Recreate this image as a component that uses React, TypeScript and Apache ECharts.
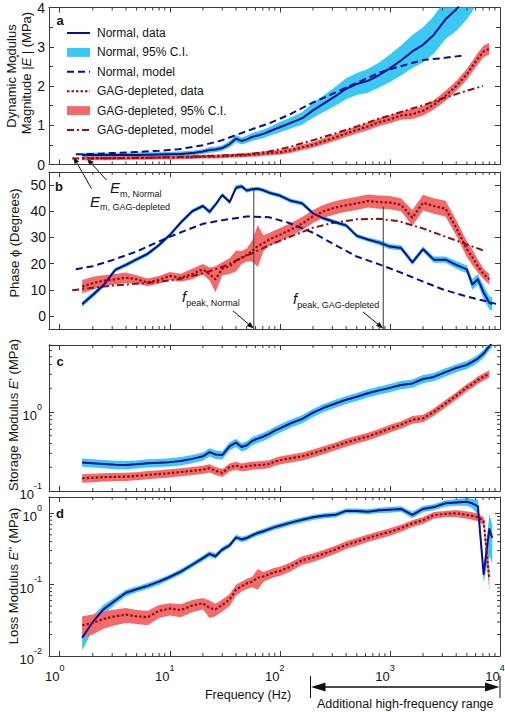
import React, { useEffect, useRef } from 'react';
import * as echarts from 'echarts';

const FONT = '"Liberation Sans", Arial, Helvetica, sans-serif';
const NAVY = '#0c0c8e';
const CYAN = '#3ac8f4';
const DARKRED = '#8e1010';
const SALMON = '#f36a6a';
const AXIS = '#3a3a3a';
const INK = '#141414';

// ---------- frequencies (Hz) of the measured data ----------
const FREQ = [1.6, 2, 2.5, 3.2, 4, 5, 6.3, 8, 10, 12.6,
  16, 20, 23, 26, 30, 35, 40, 45, 50, 56,
  63, 71, 80, 90, 100, 126, 160, 200, 250, 320,
  400, 500, 630, 800, 1000, 1260, 1600, 2000, 2500, 3200,
  4000, 5000, 5600, 6300, 7100, 8000, 8500];

// ---------- panel a : |E*| (MPa) ----------
const A_NORMAL = [0.24, 0.24, 0.24, 0.24, 0.24, 0.245, 0.25, 0.255, 0.26, 0.27,
  0.29, 0.33, 0.37, 0.38, 0.42, 0.52, 0.66, 0.6, 0.64, 0.7,
  0.74, 0.78, 0.84, 0.9, 0.95, 1.06, 1.18, 1.38, 1.55, 1.74,
  1.93, 2.05, 2.13, 2.28, 2.45, 2.65, 2.88, 3.05, 3.3, 3.7,
  3.95, 4.3, 4.5, 4.8, 5.2, 5.8, 6.2];
const A_NORMAL_CI = [0.06, 0.06, 0.06, 0.06, 0.06, 0.06, 0.06, 0.06, 0.06, 0.06,
  0.06, 0.06, 0.07, 0.07, 0.07, 0.08, 0.09, 0.09, 0.09, 0.1,
  0.1, 0.11, 0.11, 0.12, 0.13, 0.14, 0.16, 0.19, 0.21, 0.24,
  0.27, 0.28, 0.3, 0.32, 0.35, 0.38, 0.42, 0.45, 0.48, 0.5,
  0.55, 0.6, 0.6, 0.65, 0.7, 0.8, 0.85];
const A_GAG = [0.16, 0.16, 0.16, 0.165, 0.165, 0.17, 0.17, 0.175, 0.18, 0.185,
  0.19, 0.2, 0.2, 0.2, 0.21, 0.22, 0.23, 0.23, 0.24, 0.25,
  0.26, 0.28, 0.29, 0.3, 0.31, 0.36, 0.44, 0.5, 0.59, 0.69,
  0.79, 0.88, 0.97, 1.08, 1.15, 1.25, 1.28, 1.37, 1.52, 1.75,
  2.0, 2.3, 2.5, 2.7, 2.88, 2.95, null];
const A_GAG_CI = [0.05, 0.05, 0.05, 0.05, 0.05, 0.05, 0.05, 0.05, 0.05, 0.05,
  0.05, 0.05, 0.05, 0.05, 0.05, 0.05, 0.05, 0.05, 0.05, 0.055,
  0.055, 0.055, 0.06, 0.06, 0.06, 0.065, 0.07, 0.075, 0.08, 0.085,
  0.09, 0.09, 0.095, 0.1, 0.1, 0.11, 0.12, 0.12, 0.12, 0.13,
  0.13, 0.14, 0.14, 0.15, 0.15, 0.15, null];

const MODEL_A_NORMAL_FREQ = [1.4, 2, 3, 5, 8, 12, 20, 30, 50, 80, 120, 200, 300, 500, 800, 1200, 2000, 3000, 4460];
const MODEL_A_NORMAL = [0.26, 0.27, 0.29, 0.32, 0.35, 0.39, 0.49, 0.62, 0.85, 1.05, 1.26, 1.58, 1.8, 2.08, 2.34, 2.49, 2.66, 2.71, 2.77];
const MODEL_A_GAG_FREQ = [1.3, 2, 3, 5, 8, 12, 20, 30, 50, 80, 120, 200, 300, 500, 800, 1200, 2000, 3000, 5000, 7000];
const MODEL_A_GAG = [0.15, 0.155, 0.16, 0.17, 0.18, 0.19, 0.21, 0.23, 0.26, 0.33, 0.44, 0.62, 0.77, 0.97, 1.17, 1.32, 1.51, 1.68, 1.88, 2.0];

// ---------- panel b : phase (degrees) ----------
const B_NORMAL = [4.5, 8.0, 11.8, 17.6, 19.5, 21.6, 23.7, 27.1, 30.9, 35.7,
  40.0, 42.0, 39.8, 42.5, 46.2, 43.5, 49.0, 49.5, 47.9, 48.4,
  48.6, 48.0, 47.1, 46.5, 46.0, 44.0, 43.0, 39.2, 37.3, 35.8,
  34.6, 30.6, 29.2, 28.0, 26.5, 26.0, 20.5, 25.5, 21.5, 21.5,
  19.5, 17.8, 12.0, 14.0, 9.0, 5.0, 4.5];
const B_NORMAL_CI = [1.0, 1.0, 1.0, 0.8, 0.8, 0.8, 0.8, 0.8, 0.8, 0.8,
  0.8, 0.8, 1.0, 0.8, 0.8, 0.8, 1.0, 0.8, 0.8, 0.8,
  0.8, 0.8, 0.8, 0.8, 0.8, 0.8, 0.8, 0.8, 0.8, 0.8,
  0.8, 0.8, 0.8, 1.0, 1.0, 1.0, 1.0, 1.0, 1.2, 1.2,
  1.5, 1.5, 2.0, 2.0, 2.5, 2.5, 2.5];
const B_GAG = [11.2, 12.5, 13.5, 14.0, 14.6, 14.0, 12.8, 13.8, 15.3, 14.6,
  16.0, 17.8, 16.0, 14.0, 18.0, 19.0, 21.0, 22.3, 23.3, 24.8,
  26.7, 27.8, 29.2, 30.2, 31.0, 33.0, 35.3, 38.0, 40.0, 41.4,
  42.3, 43.0, 43.9, 43.5, 43.3, 42.5, 37.5, 43.3, 42.0, 41.0,
  33.7, 25.5, 22.5, 19.0, 16.0, 14.0, null];
const B_GAG_CI = [2.5, 2.5, 2.0, 2.0, 2.0, 1.5, 1.5, 1.5, 1.5, 1.5,
  2.0, 2.0, 2.5, 5.0, 2.5, 3.0, 4.0, 2.5, 2.5, 4.0,
  8.0, 3.0, 2.5, 2.5, 2.5, 2.5, 2.5, 2.5, 2.5, 2.5,
  2.5, 2.5, 2.5, 2.5, 2.5, 2.5, 3.0, 3.0, 3.0, 3.0,
  3.0, 3.0, 3.0, 2.5, 2.0, 2.0, null];

const MODEL_B_NORMAL_FREQ = [1.4, 2, 3, 5, 8, 12, 20, 30, 50, 80, 120, 200, 300, 500, 800, 1200, 2000, 3000, 5000, 7000, 9200];
const MODEL_B_NORMAL = [17.8, 19.0, 21.3, 24.6, 28.5, 31.6, 35.2, 36.6, 38.0, 37.7, 35.6, 31.8, 27.7, 22.7, 19.7, 16.9, 13.1, 10.2, 7.4, 5.9, 4.6];
const MODEL_B_GAG_FREQ = [1.3, 2, 3, 5, 8, 12, 20, 30, 50, 80, 120, 200, 300, 500, 800, 1200, 2000, 3000, 5000, 7300];
const MODEL_B_GAG = [9.8, 10.8, 11.6, 12.3, 13.0, 14.0, 16.3, 18.7, 23.0, 27.0, 30.0, 33.7, 35.5, 36.9, 37.1, 36.2, 33.4, 30.7, 27.3, 24.8];

const FPEAK = [58, 870];          // Hz
const FPEAK_TOP = [48.6, 41.8];   // degrees

// ---------- panel c : storage modulus E' (MPa) ----------
const C_NORMAL = [0.23, 0.225, 0.22, 0.215, 0.213, 0.218, 0.225, 0.228, 0.232, 0.24,
  0.255, 0.275, 0.31, 0.29, 0.285, 0.37, 0.41, 0.36, 0.38, 0.43,
  0.46, 0.49, 0.53, 0.58, 0.62, 0.72, 0.82, 0.98, 1.13, 1.28,
  1.43, 1.56, 1.73, 1.88, 2.02, 2.2, 2.3, 2.62, 2.78, 3.2,
  3.6, 3.95, 4.3, 4.75, 5.5, 6.8, 7.5];
const C_NORMAL_CI = [0.027, 0.027, 0.026, 0.026, 0.026, 0.026, 0.027, 0.027, 0.028, 0.029,
  0.03, 0.033, 0.037, 0.035, 0.034, 0.044, 0.049, 0.043, 0.046, 0.05,
  0.055, 0.058, 0.063, 0.069, 0.074, 0.085, 0.097, 0.115, 0.13, 0.15,
  0.17, 0.185, 0.2, 0.22, 0.24, 0.26, 0.27, 0.31, 0.33, 0.38,
  0.42, 0.46, 0.5, 0.56, 0.65, 0.8, 0.9];
const C_GAG = [0.145, 0.147, 0.15, 0.151, 0.152, 0.155, 0.16, 0.164, 0.168, 0.174,
  0.18, 0.186, 0.195, 0.18, 0.17, 0.2, 0.21, 0.2, 0.205, 0.21,
  0.213, 0.215, 0.22, 0.235, 0.245, 0.26, 0.275, 0.3, 0.33, 0.37,
  0.41, 0.45, 0.49, 0.55, 0.62, 0.69, 0.8, 0.83, 1.0, 1.28,
  1.6, 2.05, 2.25, 2.55, 2.8, 3.05, null];
const C_GAG_CI = [0.018, 0.018, 0.018, 0.018, 0.018, 0.018, 0.019, 0.019, 0.02, 0.02,
  0.021, 0.022, 0.023, 0.021, 0.02, 0.023, 0.024, 0.023, 0.024, 0.024,
  0.025, 0.025, 0.025, 0.027, 0.028, 0.03, 0.032, 0.035, 0.038, 0.042,
  0.047, 0.05, 0.055, 0.06, 0.068, 0.075, 0.09, 0.09, 0.11, 0.14,
  0.17, 0.22, 0.24, 0.27, 0.3, 0.33, null];

// ---------- panel d : loss modulus E'' (MPa) ----------
const D_NORMAL = [0.018, 0.03, 0.045, 0.06, 0.077, 0.086, 0.096, 0.11, 0.128, 0.152,
  0.19, 0.235, 0.27, 0.25, 0.31, 0.355, 0.46, 0.43, 0.45, 0.49,
  0.53, 0.56, 0.6, 0.64, 0.67, 0.74, 0.81, 0.88, 0.92, 0.95,
  1.08, 1.08, 1.05, 1.1, 1.12, 1.15, 0.95, 1.15, 1.22, 1.38,
  1.42, 1.45, 1.38, 1.25, 0.14, 0.6, 0.45];
const D_NORMAL_CI = [0.006, 0.007, 0.007, 0.007, 0.008, 0.008, 0.009, 0.01, 0.011, 0.013,
  0.016, 0.02, 0.024, 0.022, 0.026, 0.03, 0.04, 0.037, 0.038, 0.04,
  0.045, 0.047, 0.05, 0.054, 0.056, 0.062, 0.068, 0.074, 0.077, 0.08,
  0.09, 0.09, 0.09, 0.095, 0.1, 0.1, 0.1, 0.11, 0.12, 0.14,
  0.15, 0.18, 0.2, 0.3, 0.03, 0.35, 0.25];
const D_GAG = [0.027, 0.029, 0.033, 0.036, 0.038, 0.036, 0.035, 0.043, 0.046, 0.044,
  0.051, 0.055, 0.047, 0.045, 0.052, 0.062, 0.085, 0.095, 0.104, 0.11,
  0.125, 0.13, 0.14, 0.15, 0.155, 0.18, 0.22, 0.24, 0.27, 0.31,
  0.36, 0.4, 0.45, 0.5, 0.55, 0.62, 0.72, 0.8, 0.94, 0.98,
  1.0, 0.95, 0.92, 0.88, 0.78, 0.12, null];
const D_GAG_CI = [0.009, 0.009, 0.009, 0.009, 0.009, 0.008, 0.008, 0.009, 0.009, 0.009,
  0.01, 0.01, 0.013, 0.009, 0.01, 0.012, 0.015, 0.015, 0.017, 0.018,
  0.04, 0.02, 0.021, 0.022, 0.023, 0.026, 0.03, 0.032, 0.035, 0.04,
  0.045, 0.05, 0.055, 0.06, 0.065, 0.07, 0.08, 0.09, 0.1, 0.1,
  0.11, 0.11, 0.11, 0.11, 0.1, 0.04, null];

const HF_RANGE = [190, 10000];

const LEGEND_LABELS = ['Normal, data', 'Normal, 95% C.I.', 'Normal, model',
  'GAG-depleted, data', 'GAG-depleted, 95% C.I.', 'GAG-depleted, model'];

// ---------- layout ----------
const GRIDS = [
  { top: 7.5, height: 157 },
  { top: 172, height: 157 },
  { top: 345, height: 146 },
  { top: 497, height: 159 },
];
const GRID_LEFT = 49;
const GRID_WIDTH = 451;

const DASH_MODEL = [7, 4];
const DASH_DOT = [7, 3, 2, 3];
const DOTS = [2.5, 2];

function powLabel(v: number) {
  const e = Math.log10(v);
  const r = Math.round(e);
  if (Math.abs(e - r) > 1e-6) return '';
  return `{b|10}{s|${r}}`;
}
const POW_RICH = {
  b: { fontFamily: FONT, fontSize: 13, lineHeight: 20, verticalAlign: 'bottom', color: INK },
  s: { fontFamily: FONT, fontSize: 9, lineHeight: 11, verticalAlign: 'top', color: INK },
};

const MINOR_X: number[] = [];
for (let d = 1; d <= 1000; d *= 10) for (let m = 2; m <= 9; m++) MINOR_X.push(m * d);
const MINOR_Y_C = [0.2, 0.3, 0.4, 0.5, 0.6, 0.7, 0.8, 0.9, 2, 3, 4, 5, 6, 7];
const MINOR_Y_D = [0.02, 0.03, 0.04, 0.05, 0.06, 0.07, 0.08, 0.09, 0.2, 0.3, 0.4, 0.5, 0.6, 0.7, 0.8, 0.9];

function bandSeries(name: string, p: number, vals: any[], ci: any[], color: string, z: number) {
  return {
    type: 'custom', name, xAxisIndex: 2 * p, yAxisIndex: 2 * p, clip: true, z, silent: true,
    itemStyle: { color },
    data: [[FREQ[0], vals[0]]],
    renderItem: (params: any, api: any) => {
      if (params.dataIndex !== 0) return null;
      const up: number[][] = [];
      const lo: number[][] = [];
      FREQ.forEach((f, k) => {
        const v = vals[k];
        const c = ci[k];
        if (v == null || c == null) return;
        up.push(api.coord([f, v + c]));
        lo.push(api.coord([f, v - c]));
      });
      return { type: 'polygon', shape: { points: up.concat(lo.reverse()) }, style: { fill: color } };
    },
  };
}

function lineSeries(name: string, p: number, freqs: number[], vals: any[], color: string, width: number, dash: any, z: number) {
  return {
    type: 'line', name, xAxisIndex: 2 * p, yAxisIndex: 2 * p, z, silent: true, clip: true,
    symbol: 'none', showSymbol: false, smooth: false,
    data: freqs.map((f, k) => [f, vals[k]]).filter((d) => d[1] != null),
    lineStyle: { color, width, type: dash, cap: 'butt', join: 'round' },
    itemStyle: { color },
  };
}

function minorXSeries(p: number, yRef: number) {
  return {
    type: 'custom', xAxisIndex: 2 * p, yAxisIndex: 2 * p, silent: true, z: 6,
    data: MINOR_X.map((f) => [f, yRef]),
    renderItem: (params: any, api: any) => {
      const cs = params.coordSys;
      const pt = api.coord([api.value(0), api.value(1)]);
      const x = pt[0];
      const yb = cs.y + cs.height;
      const yt = cs.y;
      return {
        type: 'group', children: [
          { type: 'line', shape: { x1: x, y1: yb, x2: x, y2: yb - 3 }, style: { stroke: AXIS, lineWidth: 1 } },
          { type: 'line', shape: { x1: x, y1: yt, x2: x, y2: yt + 3 }, style: { stroke: AXIS, lineWidth: 1 } },
        ],
      };
    },
  };
}

function minorYSeries(p: number, ticks: number[], xRef: number) {
  return {
    type: 'custom', xAxisIndex: 2 * p, yAxisIndex: 2 * p, silent: true, z: 6,
    data: ticks.map((v) => [xRef, v]),
    renderItem: (params: any, api: any) => {
      const cs = params.coordSys;
      const pt = api.coord([api.value(0), api.value(1)]);
      const y = pt[1];
      const xl = cs.x;
      const xr = cs.x + cs.width;
      return {
        type: 'group', children: [
          { type: 'line', shape: { x1: xl, y1: y, x2: xl + 3, y2: y }, style: { stroke: AXIS, lineWidth: 1 } },
          { type: 'line', shape: { x1: xr, y1: y, x2: xr - 3, y2: y }, style: { stroke: AXIS, lineWidth: 1 } },
        ],
      };
    },
  };
}

function buildOption() {
  const axisLine = { show: true, onZero: false, lineStyle: { color: AXIS, width: 1 } };
  const axisTick = { show: true, inside: true, length: 5, lineStyle: { color: AXIS, width: 1 } };
  const xAxis: any[] = [];
  GRIDS.forEach((_, i) => {
    const common = {
      type: 'log', logBase: 10, min: 0.8, max: 10000, gridIndex: i,
      axisLine, axisTick, splitLine: { show: false }, minorTick: { show: false }, minorSplitLine: { show: false },
    };
    xAxis.push({
      ...common, position: 'bottom',
      axisLabel: i === 3
        ? { show: true, formatter: powLabel, rich: POW_RICH, margin: 7, padding: [0, 10, 0, 0] }
        : { show: false },
    });
    xAxis.push({ ...common, position: 'top', axisLabel: { show: false } });
  });

  const yAxis: any[] = [];
  const numLabel = (margin: number, formatter?: any) => ({ show: true, fontFamily: FONT, fontSize: 14, color: INK, margin, formatter });
  ['left', 'right'].forEach((pos) => yAxis.push({
    gridIndex: 0, position: pos, type: 'value', min: 0, max: 4, interval: 1, axisLine, axisTick,
    minorTick: { show: true, splitNumber: 2, length: 4, lineStyle: { color: AXIS, width: 1 } },
    splitLine: { show: false }, minorSplitLine: { show: false },
    axisLabel: pos === 'left' ? numLabel(4) : { show: false },
  }));
  ['left', 'right'].forEach((pos) => yAxis.push({
    gridIndex: 1, position: pos, type: 'value', min: -5, max: 55, splitNumber: 6, axisLine, axisTick,
    splitLine: { show: false },
    axisLabel: pos === 'left' ? numLabel(3, (v: number) => (v < 0 || v > 50 ? '' : String(v))) : { show: false },
  }));
  ['left', 'right'].forEach((pos) => yAxis.push({
    gridIndex: 2, position: pos, type: 'log', logBase: 10, min: 0.1, max: 7.05, axisLine, axisTick,
    splitLine: { show: false }, minorTick: { show: false },
    axisLabel: pos === 'left' ? { show: true, formatter: powLabel, rich: POW_RICH, margin: 7 } : { show: false },
  }));
  ['left', 'right'].forEach((pos) => yAxis.push({
    gridIndex: 3, position: pos, type: 'log', logBase: 10, min: 0.01, max: 1.69, axisLine, axisTick,
    splitLine: { show: false }, minorTick: { show: false },
    axisLabel: pos === 'left' ? { show: true, formatter: powLabel, rich: POW_RICH, margin: 7 } : { show: false },
  }));

  const series: any[] = [
    // panel a
    bandSeries('Normal, 95% C.I.', 0, A_NORMAL, A_NORMAL_CI, CYAN, 1),
    bandSeries('GAG-depleted, 95% C.I.', 0, A_GAG, A_GAG_CI, SALMON, 1),
    lineSeries('Normal, model', 0, MODEL_A_NORMAL_FREQ, MODEL_A_NORMAL, NAVY, 2, DASH_MODEL, 3),
    lineSeries('GAG-depleted, model', 0, MODEL_A_GAG_FREQ, MODEL_A_GAG, DARKRED, 2, DASH_DOT, 3),
    lineSeries('Normal, data', 0, FREQ, A_NORMAL, NAVY, 2, 'solid', 4),
    lineSeries('GAG-depleted, data', 0, FREQ, A_GAG, DARKRED, 2.2, DOTS, 4),
    // panel b
    bandSeries('Normal, 95% C.I.', 1, B_NORMAL, B_NORMAL_CI, CYAN, 1),
    bandSeries('GAG-depleted, 95% C.I.', 1, B_GAG, B_GAG_CI, SALMON, 1),
    lineSeries('Normal, model', 1, MODEL_B_NORMAL_FREQ, MODEL_B_NORMAL, NAVY, 2, DASH_MODEL, 3),
    lineSeries('GAG-depleted, model', 1, MODEL_B_GAG_FREQ, MODEL_B_GAG, DARKRED, 2, DASH_DOT, 3),
    lineSeries('Normal, data', 1, FREQ, B_NORMAL, NAVY, 2, 'solid', 4),
    lineSeries('GAG-depleted, data', 1, FREQ, B_GAG, DARKRED, 2.2, DOTS, 4),
    lineSeries('fpeak normal', 1, [FPEAK[0], FPEAK[0]], [FPEAK_TOP[0], -5], '#3a3a3a', 1, 'solid', 5),
    lineSeries('fpeak gag', 1, [FPEAK[1], FPEAK[1]], [FPEAK_TOP[1], -5], '#3a3a3a', 1, 'solid', 5),
    // panel c
    bandSeries('Normal, 95% C.I.', 2, C_NORMAL, C_NORMAL_CI, CYAN, 1),
    bandSeries('GAG-depleted, 95% C.I.', 2, C_GAG, C_GAG_CI, SALMON, 1),
    lineSeries('Normal, data', 2, FREQ, C_NORMAL, NAVY, 2, 'solid', 4),
    lineSeries('GAG-depleted, data', 2, FREQ, C_GAG, DARKRED, 2.2, DOTS, 4),
    // panel d
    bandSeries('Normal, 95% C.I.', 3, D_NORMAL, D_NORMAL_CI, CYAN, 1),
    bandSeries('GAG-depleted, 95% C.I.', 3, D_GAG, D_GAG_CI, SALMON, 1),
    lineSeries('Normal, data', 3, FREQ, D_NORMAL, NAVY, 2, 'solid', 4),
    lineSeries('GAG-depleted, data', 3, FREQ, D_GAG, DARKRED, 2.2, DOTS, 4),
    // minor ticks
    minorXSeries(0, 1), minorXSeries(1, 10), minorXSeries(2, 1), minorXSeries(3, 0.1),
    minorYSeries(2, MINOR_Y_C, 10), minorYSeries(3, MINOR_Y_D, 10),
  ];

  return {
    animation: false,
    backgroundColor: '#ffffff',
    textStyle: { fontFamily: FONT },
    grid: GRIDS.map((g) => ({ left: GRID_LEFT, width: GRID_WIDTH, top: g.top, height: g.height, containLabel: false, outerBoundsMode: 'none' })),
    xAxis,
    yAxis,
    series,
  };
}

function arrow(x1: number, y1: number, x2: number, y2: number, len = 7, hw = 2.6) {
  const dx = x2 - x1;
  const dy = y2 - y1;
  const L = Math.hypot(dx, dy);
  const ux = dx / L;
  const uy = dy / L;
  const bx = x2 - ux * len;
  const by = y2 - uy * len;
  return [
    { type: 'line', silent: true, shape: { x1, y1, x2: bx, y2: by }, style: { stroke: '#111', lineWidth: 1 } },
    { type: 'polygon', silent: true, shape: { points: [[x2, y2], [bx - uy * hw, by + ux * hw], [bx + uy * hw, by - ux * hw]] }, style: { fill: '#111' } },
  ];
}

function buildGraphic(chart: any) {
  const els: any[] = [];
  const text = (x: number, y: number, t: string, extra: any = {}, rot = 0) => ({
    type: 'text', x, y, rotation: rot, silent: true,
    style: { text: t, fontFamily: FONT, fontSize: 13, fill: INK, align: 'center', verticalAlign: 'middle', ...extra },
  });

  // legend
  const legendStyles = [
    { kind: 'line', color: NAVY, dash: null },
    { kind: 'rect', color: CYAN },
    { kind: 'line', color: NAVY, dash: DASH_MODEL },
    { kind: 'line', color: DARKRED, dash: DOTS },
    { kind: 'rect', color: SALMON },
    { kind: 'line', color: DARKRED, dash: DASH_DOT },
  ];
  LEGEND_LABELS.forEach((label, i) => {
    const cy = 33 + i * 19.4;
    const st: any = legendStyles[i];
    if (st.kind === 'rect') {
      els.push({ type: 'rect', silent: true, shape: { x: 67, y: cy - 4.5, width: 23, height: 9 }, style: { fill: st.color } });
    } else {
      els.push({ type: 'line', silent: true, shape: { x1: 67, y1: cy, x2: 90, y2: cy }, style: { stroke: st.color, lineWidth: 2, lineDash: st.dash || undefined } });
    }
    els.push(text(97, cy, label, { align: 'left', fontSize: 12 }));
  });

  // panel letters
  [['a', 60, 20.5], ['b', 59, 186], ['c', 60, 361.5], ['d', 60, 513.5]].forEach(([l, x, y]: any) => {
    els.push(text(x, y, l, { fontWeight: 'bold', fontSize: 13 }));
  });

  // y axis names (rotated)
  const R = Math.PI / 2;
  const nameRich = {
    t: { fontFamily: FONT, fontSize: 13, lineHeight: 18, verticalAlign: 'bottom', fill: INK },
    i: { fontFamily: FONT, fontSize: 13, fontStyle: 'italic', lineHeight: 18, verticalAlign: 'bottom', fill: INK },
    s: { fontFamily: FONT, fontSize: 9, lineHeight: 10, verticalAlign: 'top', fill: INK },
  };
  els.push(text(11, 76, 'Dynamic Modulus', {}, R));
  els.push(text(23.5, 73, '{t|Magnitude |}{i|E}{s|*}{t|| (MPa)}', { rich: nameRich }, R));
  els.push(text(14, 243, 'Phase \u03d5 (Degrees)', {}, R));
  els.push(text(11, 415, "{t|Storage Modulus }{i|E}{t|' (MPa)}", { rich: nameRich }, R));
  els.push(text(11, 576, "{t|Loss Modulus }{i|E}{t|'' (MPa)}", { rich: nameRich }, R));

  // x axis name
  els.push(text(248, 695, 'Frequency (Hz)', { fontSize: 12.5 }));

  // annotations with subscripts
  const subRich = {
    e: { fontFamily: FONT, fontSize: 15, fontStyle: 'italic', lineHeight: 18, verticalAlign: 'top', fill: INK },
    s: { fontFamily: FONT, fontSize: 9, lineHeight: 11, verticalAlign: 'bottom', fill: INK },
  };
  els.push(text(110, 189, '{e|E}{s|m, Normal}', { rich: subRich, align: 'left' }));
  els.push(text(90, 202.5, '{e|E}{s|m, GAG-depleted}', { rich: subRich, align: 'left' }));
  els.push(text(182, 298, '{e|f}{s|peak, Normal}', { rich: subRich, align: 'left' }));
  els.push(text(293, 300, '{e|f}{s|peak, GAG-depleted}', { rich: subRich, align: 'left' }));

  els.push(...arrow(91.5, 188.5, 73.3, 156.7));
  els.push(...arrow(106.5, 180, 86.7, 158.3));
  const pB = (f: number, v: number) => chart.convertToPixel({ xAxisIndex: 2, yAxisIndex: 2 }, [f, v]);
  const pkN = pB(FPEAK[0], -5);
  const pkG = pB(FPEAK[1], -5);
  els.push(...arrow(233, 311, pkN[0], pkN[1] - 0.5));
  els.push(...arrow(363, 312, pkG[0], pkG[1] - 0.5));

  // additional high-frequency range
  const pD = (f: number) => chart.convertToPixel({ xAxisIndex: 6, yAxisIndex: 6 }, [f, 0.1]);
  const xs = pD(HF_RANGE[0])[0];
  const xe = pD(HF_RANGE[1])[0];
  const ya = 687;
  els.push({ type: 'line', silent: true, shape: { x1: xs, y1: 676, x2: xs, y2: 698 }, style: { stroke: '#111', lineWidth: 1 } });
  els.push({ type: 'line', silent: true, shape: { x1: xe, y1: 676, x2: xe, y2: 698 }, style: { stroke: '#111', lineWidth: 1 } });
  els.push({ type: 'line', silent: true, shape: { x1: xs + 14, y1: ya, x2: xe - 14, y2: ya }, style: { stroke: '#111', lineWidth: 1.3 } });
  els.push({ type: 'polygon', silent: true, shape: { points: [[xs + 0.5, ya], [xs + 15, ya - 4.5], [xs + 15, ya + 4.5]] }, style: { fill: '#111' } });
  els.push({ type: 'polygon', silent: true, shape: { points: [[xe - 0.5, ya], [xe - 15, ya - 4.5], [xe - 15, ya + 4.5]] }, style: { fill: '#111' } });
  els.push(text((xs + xe) / 2, 704, 'Additional high-frequency range', { fontSize: 12.5 }));

  return { elements: els };
}

export default function App() {
  const ref = useRef<HTMLDivElement>(null);
  useEffect(() => {
    const el = ref.current;
    if (!el) return;
    const chart = echarts.init(el, null, { renderer: 'svg' });
    chart.setOption(buildOption() as any);
    chart.setOption({ graphic: buildGraphic(chart) } as any);
    return () => chart.dispose();
  }, []);
  return (
    <div
      ref={ref}
      style={{ position: 'fixed', left: 0, top: 0, width: 505, height: 712, background: '#ffffff' }}
    />
  );
}
